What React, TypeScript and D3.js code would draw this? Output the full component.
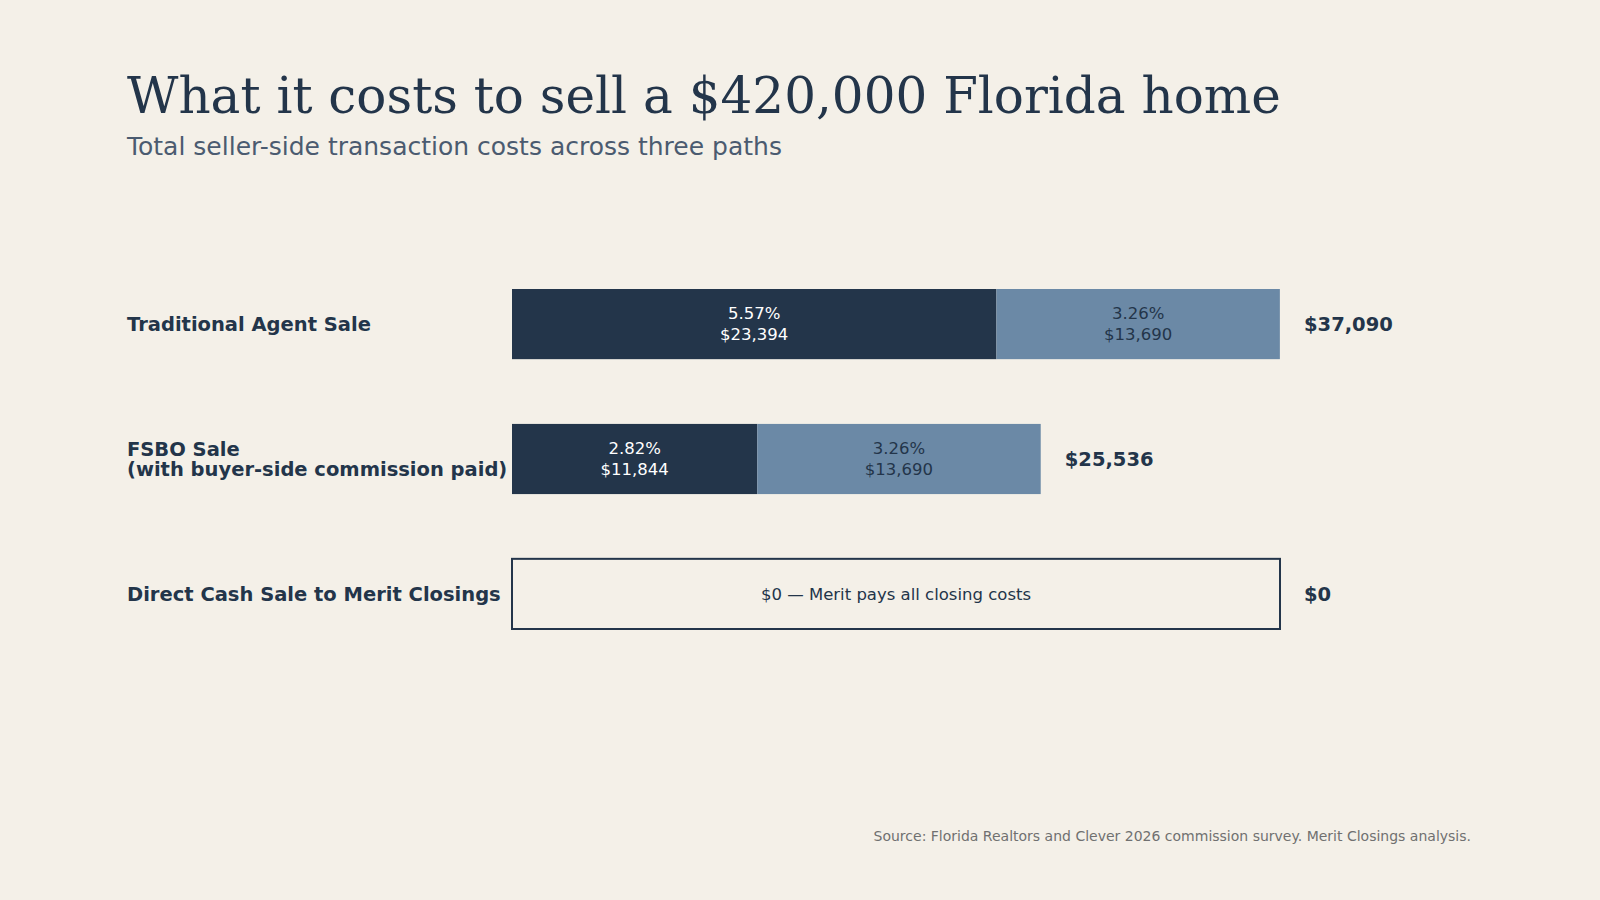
import React, { useEffect, useRef } from 'react';
import * as d3 from 'd3';

const paths = ['Traditional Agent Sale', 'FSBO Sale\n(with buyer-side commission paid)', 'Direct Cash Sale to Merit Closings'];
const commission = [23394, 11844, 0];
const commissionPct = ['5.57%', '2.82%', ''];
const closingCosts = [13690, 13690, 0];
const closingPct = ['3.26%', '3.26%', ''];
const totals = [37090, 25536, 0];
const meritNote = '$0 \u2014 Merit pays all closing costs';

const BG = '#f4f0e8';
const DARK = '#23354a';
const LIGHT = '#6b89a6';
const SANS = '"DejaVu Sans", sans-serif';

const fmt = (v: number) => '$' + d3.format(',')(v);

const App: React.FC = () => {
  const svgRef = useRef<SVGSVGElement>(null);

  useEffect(() => {
    if (!svgRef.current) return;
    const W = 1600, H = 900;
    const svg = d3.select(svgRef.current);
    svg.selectAll('*').remove();

    svg.append('rect').attr('width', W).attr('height', H).attr('fill', BG);

    // Title + subtitle
    svg.append('text')
      .attr('x', 127).attr('y', 113)
      .style('font-family', '"DejaVu Serif", serif')
      .style('font-size', '50px')
      .attr('fill', DARK)
      .text('What it costs to sell a $420,000 Florida home');

    svg.append('text')
      .attr('x', 127).attr('y', 155)
      .style('font-family', SANS)
      .style('font-size', '25px')
      .attr('fill', '#4b5b70')
      .text('Total seller-side transaction costs across three paths');

    const x = d3.scaleLinear().domain([0, d3.max(totals) as number]).range([512, 1280]);
    const y = d3.scaleBand<number>()
      .domain(d3.range(paths.length))
      .range([289, 629])
      .paddingInner(0.48)
      .paddingOuter(0);
    const bh = y.bandwidth();

    const rows = svg.selectAll('g.row')
      .data(d3.range(paths.length))
      .enter()
      .append('g')
      .attr('class', 'row');

    rows.each(function (i) {
      const g = d3.select(this);
      const cy = (y(i) as number) + bh / 2;

      // Row label
      const lines = paths[i].split('\n');
      const t = g.append('text')
        .style('font-family', SANS)
        .style('font-size', '19.5px')
        .style('font-weight', 'bold')
        .attr('fill', DARK);
      lines.forEach((ln, k) => {
        t.append('tspan')
          .attr('x', 127)
          .attr('y', cy + (k - (lines.length - 1) / 2) * 20.5)
          .attr('dy', '0.35em')
          .text(ln);
      });

      if (totals[i] > 0) {
        const segs = [
          { x0: 0, x1: commission[i], fill: DARK, txt: '#ffffff', pct: commissionPct[i], val: commission[i] },
          { x0: commission[i], x1: commission[i] + closingCosts[i], fill: LIGHT, txt: DARK, pct: closingPct[i], val: closingCosts[i] },
        ];
        segs.forEach(s => {
          g.append('rect')
            .attr('x', x(s.x0))
            .attr('y', y(i) as number)
            .attr('width', x(s.x1) - x(s.x0))
            .attr('height', bh)
            .attr('fill', s.fill);
          const mx = (x(s.x0) + x(s.x1)) / 2;
          [s.pct, fmt(s.val)].forEach((ln, k) => {
            g.append('text')
              .attr('x', mx)
              .attr('y', cy + (k === 0 ? -10.5 : 10.5))
              .attr('dy', '0.35em')
              .attr('text-anchor', 'middle')
              .style('font-family', SANS)
              .style('font-size', '16.5px')
              .attr('fill', s.txt)
              .text(ln);
          });
        });
      } else {
        g.append('rect')
          .attr('x', x(0))
          .attr('y', y(i) as number)
          .attr('width', x.range()[1] - x(0))
          .attr('height', bh)
          .attr('fill', 'none')
          .attr('stroke', DARK)
          .attr('stroke-width', 2);
        g.append('text')
          .attr('x', (x.range()[0] + x.range()[1]) / 2)
          .attr('y', cy)
          .attr('dy', '0.35em')
          .attr('text-anchor', 'middle')
          .style('font-family', SANS)
          .style('font-size', '16.5px')
          .attr('fill', DARK)
          .text(meritNote);
      }

      // Total label
      const endX = totals[i] > 0 ? x(totals[i]) : x.range()[1];
      g.append('text')
        .attr('x', endX + 24)
        .attr('y', cy)
        .attr('dy', '0.35em')
        .style('font-family', SANS)
        .style('font-size', '19.5px')
        .style('font-weight', 'bold')
        .attr('fill', DARK)
        .text(fmt(totals[i]));
    });

    // Source
    svg.append('text')
      .attr('x', 1471).attr('y', 836)
      .attr('dy', '0.35em')
      .attr('text-anchor', 'end')
      .style('font-family', SANS)
      .style('font-size', '14px')
      .attr('fill', '#707070')
      .text('Source: Florida Realtors and Clever 2026 commission survey. Merit Closings analysis.');
  }, []);

  return (
    <svg ref={svgRef} width={1600} height={900}
      style={{ position: 'absolute', left: 0, top: 0, display: 'block' }} />
  );
};

export default App;
